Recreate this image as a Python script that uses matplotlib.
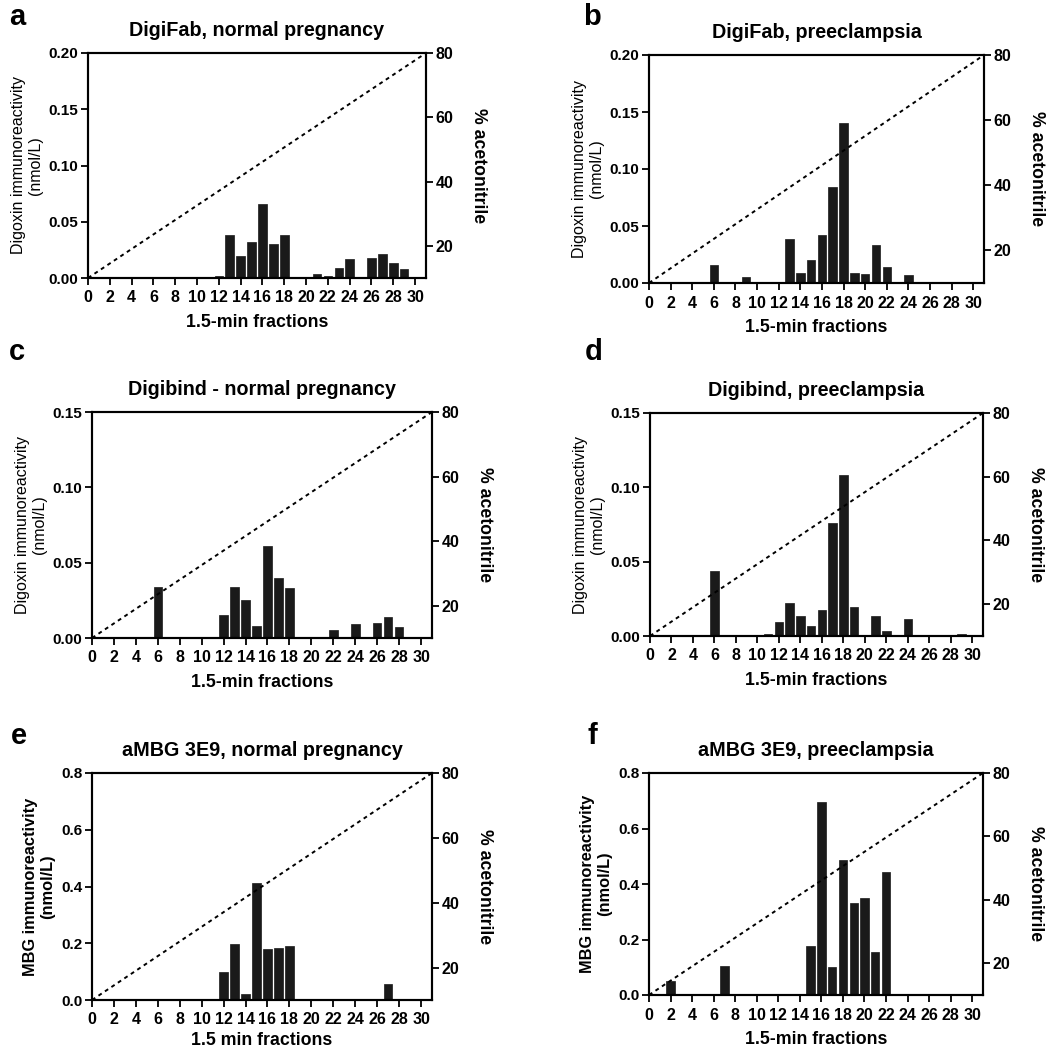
import matplotlib
matplotlib.use('Agg')
import matplotlib.pyplot as plt

plt.rcParams['font.family'] = ['Liberation Sans', 'DejaVu Sans']
plt.rcParams['font.weight'] = 'bold'

# Fractions and immunoreactivity (nmol/L) for each panel
a_x = [12, 13, 14, 15, 16, 17, 18, 21, 22, 23, 24, 26, 27, 28, 29]
a_y = [0.0015, 0.038, 0.020, 0.032, 0.066, 0.030, 0.038, 0.004, 0.002, 0.009, 0.017, 0.018, 0.021, 0.013, 0.008]

b_x = [6, 9, 13, 14, 15, 16, 17, 18, 19, 20, 21, 22, 24]
b_y = [0.0155, 0.005, 0.039, 0.009, 0.020, 0.042, 0.084, 0.140, 0.009, 0.008, 0.033, 0.014, 0.007]

c_x = [6, 12, 13, 14, 15, 16, 17, 18, 22, 24, 26, 27, 28]
c_y = [0.034, 0.015, 0.034, 0.025, 0.008, 0.061, 0.040, 0.0335, 0.005, 0.009, 0.010, 0.014, 0.007]

d_x = [6, 11, 12, 13, 14, 15, 16, 17, 18, 19, 21, 22, 24, 29]
d_y = [0.0436, 0.0016, 0.0094, 0.0225, 0.0137, 0.0067, 0.0178, 0.076, 0.108, 0.0198, 0.0137, 0.0034, 0.0117, 0.0016]

e_x = [12, 13, 14, 15, 16, 17, 18, 27]
e_y = [0.10, 0.197, 0.020, 0.413, 0.181, 0.184, 0.191, 0.055]

f_x = [2, 7, 15, 16, 17, 18, 19, 20, 21, 22]
f_y = [0.052, 0.103, 0.175, 0.695, 0.102, 0.488, 0.333, 0.348, 0.155, 0.442]

# Acetonitrile gradient (%)
grad_x = [0, 31]
grad_pct = [10, 80]

titles = ['DigiFab, normal pregnancy', 'DigiFab, preeclampsia',
          'Digibind - normal pregnancy', 'Digibind, preeclampsia',
          'aMBG 3E9, normal pregnancy', 'aMBG 3E9, preeclampsia']
letters = ['a', 'b', 'c', 'd', 'e', 'f']
xlabels = ['1.5-min fractions'] * 4 + ['1.5 min fractions', '1.5-min fractions']
ylabels = ['Digoxin immunoreactivity\n(nmol/L)'] * 4 + ['MBG immunoreactivity\n(nmol/L)'] * 2
ylabel_weight = ['normal'] * 4 + ['bold'] * 2
ylabel_size = [11.5] * 4 + [11.8] * 2
ymax = [0.20, 0.20, 0.15, 0.15, 0.8, 0.8]
ystep = [0.05, 0.05, 0.05, 0.05, 0.2, 0.2]
yfmt = ['%.2f', '%.2f', '%.2f', '%.2f', '%.1f', '%.1f']
data = [(a_x, a_y), (b_x, b_y), (c_x, c_y), (d_x, d_y), (e_x, e_y), (f_x, f_y)]

W, H = 1047, 1050
# axes boxes in pixels: left, right, top, bottom
boxes = [(88, 426, 53, 278), (649, 984, 55, 283),
         (92, 432, 412, 638), (650, 983, 413, 636),
         (92, 432, 773, 1000), (649, 983, 773, 995)]
letter_pos = [(9, 3), (583, 3), (9, 338), (585, 338), (11, 722), (587, 722)]
xlabel_pad = [6, 6, 6, 6, 3, 6]

fig = plt.figure(figsize=(W / 100, H / 100), dpi=100)

for i in range(6):
    l, r, t, b = boxes[i]
    ax = fig.add_axes([l / W, (H - b) / H, (r - l) / W, (b - t) / H])
    xs, ys = data[i]
    ax.bar(xs, ys, width=0.78, color='#1a1a1a', edgecolor='#1a1a1a', linewidth=0.5)
    ax.set_xlim(0, 31)
    ax.set_ylim(0, ymax[i])
    ax.set_xticks(range(0, 31, 2))
    n = int(round(ymax[i] / ystep[i]))
    yt = [k * ystep[i] for k in range(n + 1)]
    ax.set_yticks(yt)
    ax.set_yticklabels([yfmt[i] % v for v in yt])
    ax.tick_params(axis='y', labelsize=11, width=1.3, length=5, pad=2)
    ax.tick_params(axis='x', labelsize=11.5, width=1.3, length=5, pad=4)
    for sp in ax.spines.values():
        sp.set_linewidth(1.5)
    ax.set_title(titles[i], fontsize=14.2, fontweight='bold', pad=12)
    ax.set_xlabel(xlabels[i], fontsize=12.8, fontweight='bold', labelpad=xlabel_pad[i])
    ax.set_ylabel(ylabels[i], fontsize=ylabel_size[i], fontweight=ylabel_weight[i], labelpad=4)

    ax2 = ax.twinx()
    ax2.plot(grad_x, grad_pct, color='black', linestyle=(0, (2, 2)), linewidth=1.4)
    ax2.set_ylim(10, 80)
    ax2.set_yticks([20, 40, 60, 80])
    ax2.tick_params(labelsize=11.5, width=1.3, length=5, pad=2)
    for sp in ax2.spines.values():
        sp.set_linewidth(1.5)
    ax2.set_ylabel('% acetonitrile', fontsize=12.7, fontweight='bold', rotation=270, labelpad=24)

    lx, ly = letter_pos[i]
    fig.text(lx / W, 1 - ly / H, letters[i], fontsize=21, fontweight='bold', va='top', ha='left')

fig.savefig('out.png', dpi=100)
